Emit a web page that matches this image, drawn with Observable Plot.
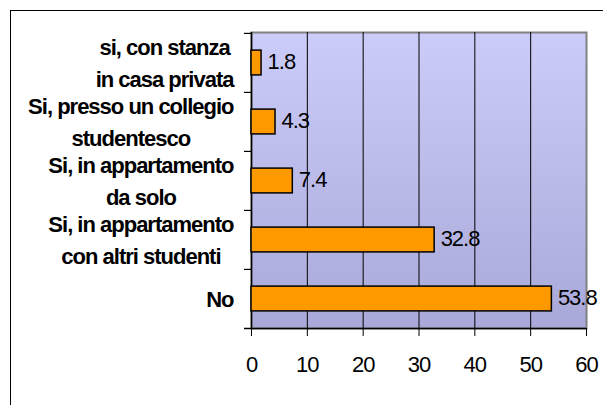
<!DOCTYPE html>
<html><head><meta charset="utf-8">
<script src="https://cdn.jsdelivr.net/npm/d3@7"></script>
<script src="https://cdn.jsdelivr.net/npm/@observablehq/plot@0.6"></script>
<style>
body{margin:0;background:#fff;}
#wrap{position:relative;width:603px;height:405px;overflow:hidden;}
#border{position:absolute;left:10px;top:10px;width:700px;height:500px;border:1.5px solid #000;box-sizing:border-box;}
#chart{position:absolute;left:0;top:0;}
</style></head><body>
<div id="wrap"><div id="border"></div><div id="chart"></div></div>
<script>
const categories = ["si, con stanza\nin casa privata", "Si, presso un collegio\nstudentesco", "Si, in appartamento\nda solo", "Si, in appartamento\ncon altri studenti", "No"];
const values = [1.8, 4.3, 7.4, 32.8, 53.8];
const xTicks = [0, 10, 20, 30, 40, 50, 60];

const data = categories.map((c, i) => ({cat: c, value: values[i]}));

const W = 603, H = 405;
const mL = 251, mR = 17, mT = 32, mB = 77;
const step = (H - mT - mB) / categories.length;
const barH = 25;
const inset = (step - barH) / 2;
const FONT = "'Liberation Sans', Arial, sans-serif";
const labelSize = 22;
const spacing = -1;
const gap = 18;

const ctx = document.createElement("canvas").getContext("2d");
ctx.font = `bold ${labelSize}px ${FONT}`;
const blockW = c => d3.max(c.split("\n"), l => ctx.measureText(l.trim()).width + l.trim().length * spacing);

const labelMarks = categories.map(c => Plot.text([c], {
  x: () => 0, y: d => d, text: d => d,
  textAnchor: "middle", lineHeight: 1.45,
  dx: -(gap + blockW(c) / 2), dy: -2,
  fontWeight: "bold", fontSize: labelSize, fill: "#000"
}));

const xMax = d3.max(xTicks);
const chart = Plot.plot({
  width: W, height: H,
  marginLeft: mL, marginRight: mR, marginTop: mT, marginBottom: mB,
  style: {fontFamily: FONT, fontSize: "22px", letterSpacing: spacing + "px", background: "transparent", color: "#000"},
  x: {domain: [0, xMax], axis: null},
  y: {domain: categories, padding: 0, axis: null},
  marks: [
    Plot.frame({fill: "url(#bgGrad)", stroke: "#808080", strokeWidth: 2}),
    Plot.ruleX(xTicks.filter(t => t > 0 && t < xMax), {stroke: "#000", strokeWidth: 1}),
    Plot.ruleX([0], {stroke: "#000", strokeWidth: 1.5}),
    Plot.ruleY(categories, {y: d => d, x1: () => 0, x2: () => 0, insetLeft: -7, dy: -step / 2, stroke: "#000", strokeWidth: 1.2}),
    Plot.ruleY([categories[categories.length - 1]], {y: d => d, x1: () => 0, x2: () => xMax, insetLeft: -7, dy: step / 2, stroke: "#000", strokeWidth: 1.5}),
    Plot.axisX(xTicks, {label: null, tickSize: 8, tickPadding: 20, fontSize: 22, stroke: "#000", fill: "#000"}),
    Plot.barX(data, {x: "value", y: "cat", fill: "#FF9900", stroke: "#000", strokeWidth: 1.5, insetTop: inset, insetBottom: inset}),
    Plot.text(data, {x: "value", y: "cat", text: d => d.value.toFixed(1), textAnchor: "start", dx: 6, dy: -1, fontSize: 22, fill: "#000"}),
    ...labelMarks
  ]
});

d3.select(chart).insert("defs", ":first-child").html(
  `<linearGradient id="bgGrad" x1="0" y1="0" x2="0" y2="1">
     <stop offset="0" stop-color="#CCCCFA"/>
     <stop offset="1" stop-color="#A9A9D9"/>
   </linearGradient>`);

document.getElementById("chart").appendChild(chart);
</script>
</body></html>
